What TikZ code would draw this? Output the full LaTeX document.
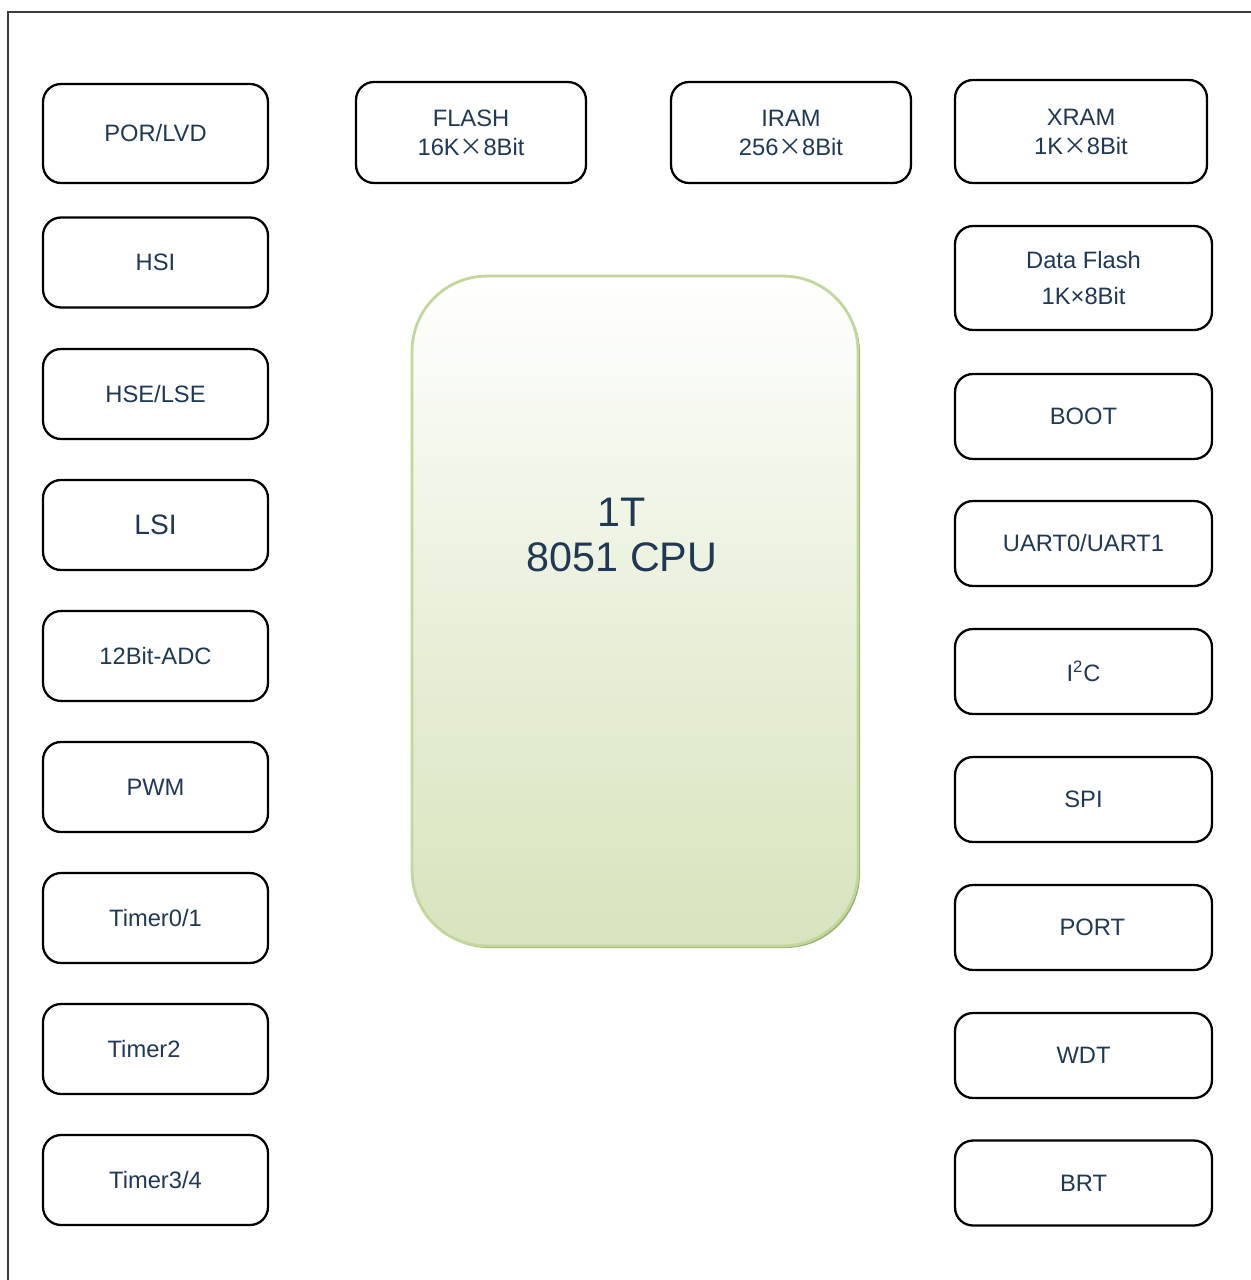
\documentclass[tikz,border=0pt]{standalone}
\usepackage{fontspec}
\setmainfont{Liberation Sans}
\newfontfamily\cjk{Noto Sans CJK SC}
\usepackage{tikz}
\usetikzlibrary{shapes,positioning,shadows}
\definecolor{txtblue}{RGB}{31,56,84}
\definecolor{cpugreen}{RGB}{215,228,189}
\definecolor{cpuedge}{RGB}{195,214,155}
\definecolor{cpushadow}{RGB}{150,175,110}
\definecolor{framegray}{RGB}{60,60,60}
\tikzset{
  blockbox/.style={draw=black, line width=1.3pt, rounded corners=0.36cm, fill=white,
    text=txtblue, align=center, inner sep=0pt,
    font=\fontsize{13.5}{16.5}\selectfont},
  leftbox/.style={blockbox, minimum width=4.5cm, minimum height=1.8cm},
  rightbox/.style={blockbox, minimum width=5.14cm, minimum height=1.7cm},
  cpubox/.style={draw=cpuedge, line width=1.6pt, rounded corners=1.5cm,
    minimum width=8.92cm, minimum height=13.4cm,
    top color=white, bottom color=cpugreen, middle color=white!45!cpugreen,
    drop shadow={shadow xshift=1.2pt, shadow yshift=-1.2pt, fill=cpushadow, opacity=1}}
}
\newcommand{\bx}{{\cjk ×}}
\begin{document}
\begin{tikzpicture}[x=0.02cm, y=-0.02cm]
\useasboundingbox (0,0) rectangle (1250,1280);
% outer frame
\draw[framegray, line width=1pt] (8,1290) -- (8,12) -- (1260,12);

% CPU core
\node[cpubox] (cpu) at (635,611) {};
\node[text=txtblue, align=center, font=\fontsize{23.5}{26}\selectfont] (cputext) at (622,535) {1T\\8051 CPU};

% left column
\node[leftbox, minimum height=1.98cm] (por) at (155.5,133.5) {POR/LVD};
\node[leftbox] (hsi) at (155.5,262.5) {HSI};
\node[leftbox] (hse) at (155.5,394) {HSE/LSE};
\node[leftbox, font=\fontsize{16}{19}\selectfont] (lsi) at (155.5,525) {LSI};
\node[leftbox] (adc) at (155.5,656) {12Bit-ADC};
\node[leftbox] (pwm) at (155.5,787) {PWM};
\node[leftbox] (tmr01) at (155.5,918) {Timer0/1};
\node[leftbox] (tmr2) at (155.5,1049) {Timer2\hspace*{13pt}};
\node[leftbox] (tmr34) at (155.5,1180) {Timer3/4};

% memories on top
\node[blockbox, minimum width=4.6cm, minimum height=2.02cm] (flash) at (471,132.5) {FLASH\\16K\bx8Bit};
\node[blockbox, minimum width=4.8cm, minimum height=2.02cm] (iram) at (791,132.5) {IRAM\\256\bx8Bit};
\node[blockbox, minimum width=5.04cm, minimum height=2.06cm] (xram) at (1081,131.5) {XRAM\\1K\bx8Bit};

% right column
\node[rightbox, minimum height=2.08cm] (dflash) at (1083.5,278) {Data Flash\\[3.5pt]1K×8Bit};
\node[rightbox] (boot) at (1083.5,416.5) {BOOT};
\node[rightbox] (uart) at (1083.5,543.5) {UART0/UART1};
\node[rightbox] (iic) at (1083.5,671.5) {I\textsuperscript{2}C};
\node[rightbox] (spi) at (1083.5,799.5) {SPI};
\node[rightbox] (port) at (1083.5,927.5) {\hspace*{10pt}PORT};
\node[rightbox] (wdt) at (1083.5,1055.5) {WDT};
\node[rightbox] (brt) at (1083.5,1183) {BRT};
\end{tikzpicture}
\end{document}
